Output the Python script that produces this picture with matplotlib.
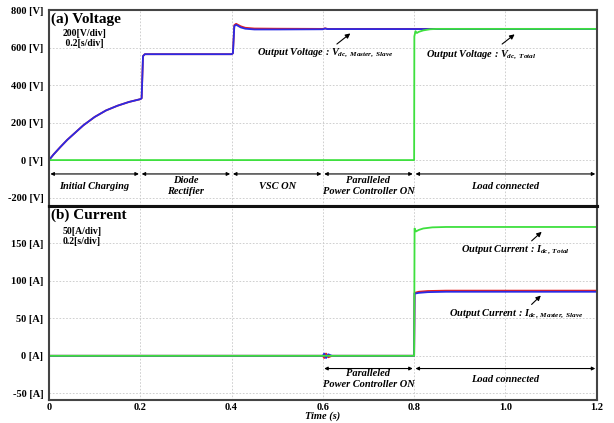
import matplotlib.pyplot as plt
from matplotlib.ticker import FixedLocator, FuncFormatter

plt.rcParams["font.family"] = ["Liberation Serif", "DejaVu Serif"]
plt.rcParams["font.weight"] = "bold"
plt.rcParams["mathtext.fontset"] = "custom"
plt.rcParams["mathtext.rm"] = "Liberation Serif:bold"
plt.rcParams["mathtext.it"] = "Liberation Serif:italic:bold"
plt.rcParams["mathtext.bf"] = "Liberation Serif:bold"

# ---- Voltage data ----
t_v = [0, 0.01, 0.025, 0.04, 0.05, 0.075, 0.1, 0.125, 0.15, 0.175, 0.2, 0.203, 0.206, 0.21,
       0.4, 0.403, 0.406, 0.41, 0.42, 0.43, 0.45, 0.5, 0.6, 0.605, 0.61, 0.8, 1.2]
v_master = [0, 30, 70, 108, 130, 185, 230, 265, 290, 310, 325, 330, 555, 565,
            565, 570, 715, 722, 708, 701, 697, 697, 698, 702, 699, 699, 699]
v_slave = [0, 30, 70, 108, 130, 185, 230, 265, 290, 310, 325, 330, 555, 565,
           565, 570, 720, 727, 714, 706, 702, 701, 700, 703, 700, 700, 700]
t_vtot = [0, 0.8, 0.8005, 0.803, 0.806, 0.81, 0.82, 0.835, 0.85, 1.2]
v_total = [0, 0, 660, 688, 678, 684, 692, 698, 700, 700]

# ---- Current data ----
t_itot = [0, 0.8, 0.801, 0.804, 0.81, 0.82, 0.84, 0.87, 1.2]
i_total = [0, 0, 170, 166, 168, 170, 171.5, 172, 172]
t_i = [0, 0.6, 0.603, 0.607, 0.612, 0.62, 0.8, 0.801, 0.81, 0.83, 0.87, 1.2]
i_master = [0, 0, 3, -3, 2, 0, 0, 83, 84, 85, 85.5, 85.5]
i_slave = [0, 0, -3, 3, -2, 0, 0, 84, 85.5, 86.5, 87, 87]

v_ticks = [-200, 0, 200, 400, 600, 800]
i_ticks = [-50, 0, 50, 100, 150]
x_ticks = [0, 0.2, 0.4, 0.6, 0.8, 1.0, 1.2]

phases_v = [(0, 0.2, "Initial Charging"), (0.2, 0.4, "Diode\nRectifier"), (0.4, 0.6, "VSC ON"),
            (0.6, 0.8, "Paralleled\nPower Controller ON"), (0.8, 1.2, "Load connected")]
phases_i = phases_v[3:]

GREEN = "#3ee03e"
BLUE = "#2a2ae6"
RED = "#e62020"

fig = plt.figure(figsize=(6.14, 4.23), dpi=100)
ax1 = fig.add_axes([0.0798, 0.513, 0.892, 0.463])
ax2 = fig.add_axes([0.0798, 0.0544, 0.892, 0.4586])

for ax in (ax1, ax2):
    ax.set_xlim(0, 1.2)
    ax.xaxis.set_major_locator(FixedLocator(x_ticks))
    ax.grid(True, color="#c8c8c8", linestyle=(0, (2, 2)), linewidth=0.6)
    ax.tick_params(length=0, labelsize=7.5, pad=4)
    for s in ax.spines.values():
        s.set_color("#444444")
        s.set_linewidth(1.5)

# Top panel
ax1.plot(t_v, v_slave, color=RED, lw=1.3)
ax1.plot(t_v, v_master, color=BLUE, lw=1.3)
ax1.plot(t_vtot, v_total, color=GREEN, lw=1.3)
ax1.set_ylim(-245, 800)
ax1.yaxis.set_major_locator(FixedLocator(v_ticks))
ax1.yaxis.set_major_formatter(FuncFormatter(lambda v, p: f"{v:.0f} [V]"))
ax1.tick_params(axis="x", labelbottom=False)
ax1.spines["bottom"].set_color("#111111")
ax1.spines["bottom"].set_linewidth(2.2)

ax1.text(0.005, 790, "(a) Voltage", fontsize=11, fontweight="bold", va="top")
ax1.text(0.03, 700, "200[V/div]\n 0.2[s/div]", fontsize=7, fontweight="bold", va="top")

ax1.text(0.455, 572, r"Output Voltage : $V_{dc,\ Master,\ Slave}$", fontsize=7.5,
         style="italic", fontweight="bold", va="center")
ax1.annotate("", xy=(0.665, 685), xytext=(0.626, 610),
             arrowprops=dict(arrowstyle="-|>", color="black", lw=0.8, mutation_scale=7))
ax1.text(0.825, 562, r"Output Voltage : $V_{dc,\ Total}$", fontsize=7.5,
         style="italic", fontweight="bold", va="center")
ax1.annotate("", xy=(1.025, 680), xytext=(0.988, 610),
             arrowprops=dict(arrowstyle="-|>", color="black", lw=0.8, mutation_scale=7))

for a, b, label in phases_v:
    ax1.annotate("", xy=(a + 0.003, -74), xytext=(b - 0.003, -74),
                 arrowprops=dict(arrowstyle="<|-|>", color="black", lw=0.8, mutation_scale=5,
                                 shrinkA=0, shrinkB=0))
    ax1.text((a + b) / 2, -140, label, fontsize=7.5, style="italic", fontweight="bold",
             ha="center", va="center", linespacing=1.25)

# Bottom panel
ax2.plot(t_i, i_slave, color=RED, lw=1.3)
ax2.plot(t_i, i_master, color=BLUE, lw=1.3)
ax2.plot(t_itot, i_total, color=GREEN, lw=1.3)
ax2.set_ylim(-59, 200)
ax2.yaxis.set_major_locator(FixedLocator(i_ticks))
ax2.yaxis.set_major_formatter(FuncFormatter(lambda v, p: f"{v:.0f} [A]"))
ax2.xaxis.set_major_formatter(FuncFormatter(lambda v, p: "0" if v == 0 else f"{v:.1f}"))
ax2.tick_params(axis="x", pad=2)
ax2.spines["top"].set_color("#111111")
ax2.spines["top"].set_linewidth(2.2)
ax2.set_xlabel("Time (s)", fontsize=7.5, style="italic", fontweight="bold", labelpad=0)

ax2.text(0.005, 196, "(b) Current", fontsize=11, fontweight="bold", va="top")
ax2.text(0.03, 172, "50[A/div]\n0.2[s/div]", fontsize=7, fontweight="bold", va="top")

ax2.text(0.902, 142, r"Output Current : $I_{dc,\ Total}$", fontsize=7.5,
         style="italic", fontweight="bold", va="center")
ax2.annotate("", xy=(1.084, 168), xytext=(1.053, 151),
             arrowprops=dict(arrowstyle="-|>", color="black", lw=0.8, mutation_scale=7))
ax2.text(0.876, 57, r"Output Current : $I_{dc,\ Master,\ Slave}$", fontsize=7.5,
         style="italic", fontweight="bold", va="center")
ax2.annotate("", xy=(1.082, 83), xytext=(1.053, 66),
             arrowprops=dict(arrowstyle="-|>", color="black", lw=0.8, mutation_scale=7))

for a, b, label in phases_i:
    ax2.annotate("", xy=(a + 0.003, -17), xytext=(b - 0.003, -17),
                 arrowprops=dict(arrowstyle="<|-|>", color="black", lw=0.8, mutation_scale=5,
                                 shrinkA=0, shrinkB=0))
    ax2.text((a + b) / 2, -31, label, fontsize=7.5, style="italic", fontweight="bold",
             ha="center", va="center", linespacing=1.15)

fig.savefig("out.png", dpi=100)
